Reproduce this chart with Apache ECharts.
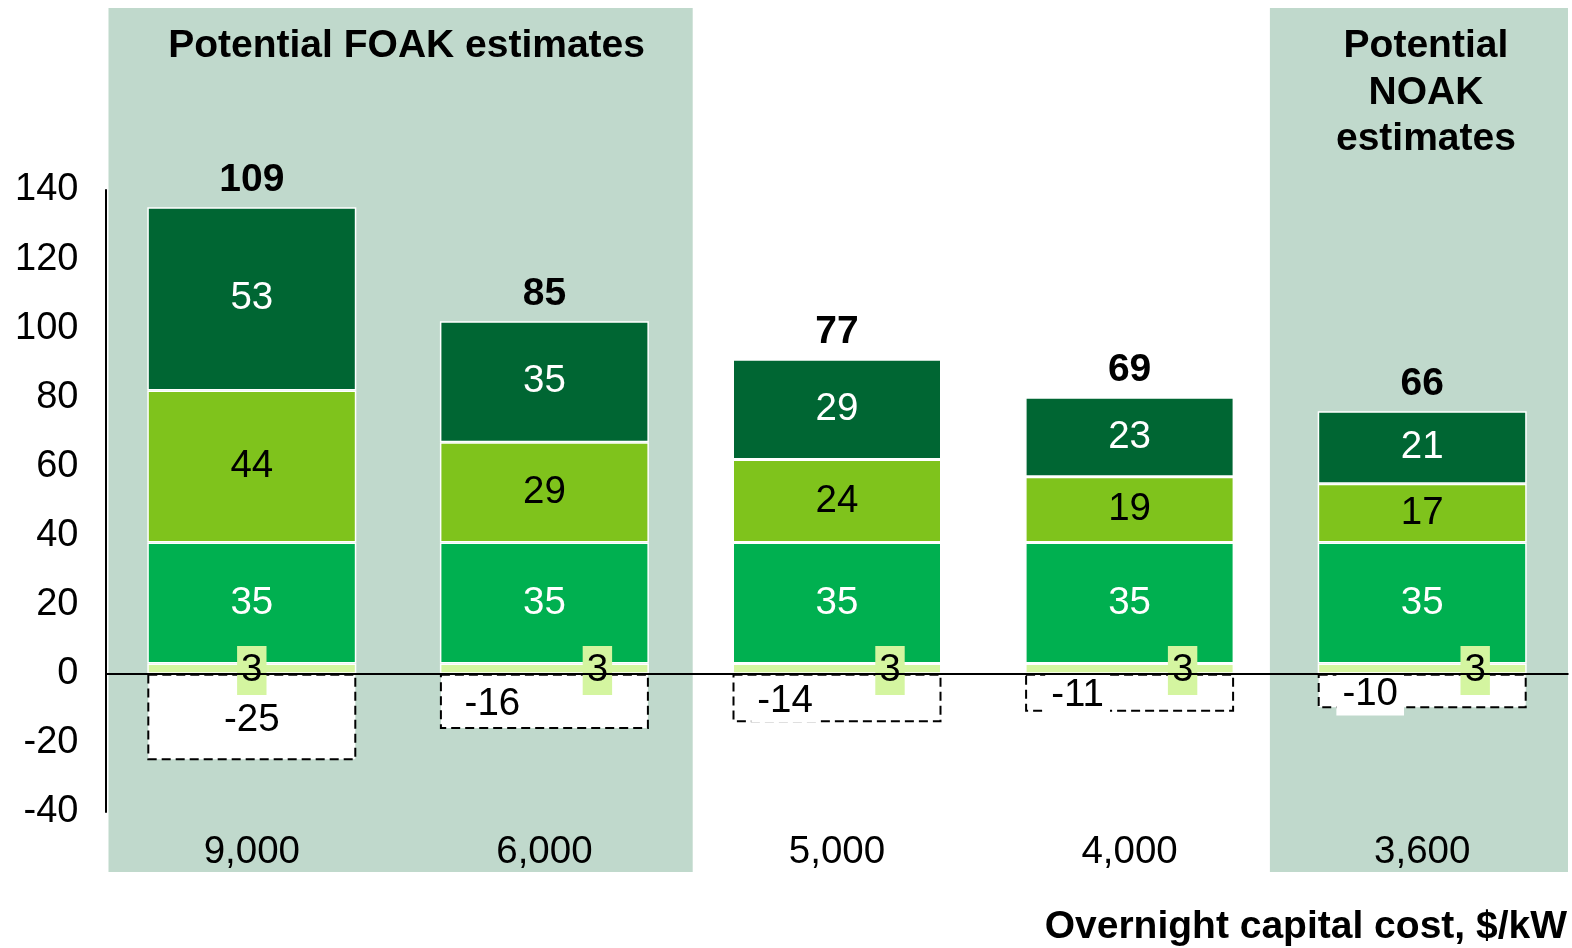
<!DOCTYPE html>
<html>
<head>
<meta charset="utf-8">
<script src="https://cdn.jsdelivr.net/npm/echarts@6/dist/echarts.min.js"></script>
<style>
html,body{margin:0;padding:0;background:#fff;}
#main{width:1572px;height:948px;}
</style>
</head>
<body>
<div id="main"></div>
<script>
const categories = ['9,000', '6,000', '5,000', '4,000', '3,600'];
const seriesSmall = [3, 3, 3, 3, 3];
const seriesGreen = [35, 35, 35, 35, 35];
const seriesLime = [44, 29, 24, 19, 17];
const seriesDark = [53, 35, 29, 23, 21];
const seriesNeg = [-25, -16, -14, -11, -10];
const totals = [109, 85, 77, 69, 66];
const yTicks = { min: -40, max: 140, interval: 20 };
const foakTitle = 'Potential FOAK estimates';
const noakTitle = 'Potential\nNOAK\nestimates';
const xAxisTitle = 'Overnight capital cost, $/kW';

const FONT = '"Liberation Sans", Arial, sans-serif';
const FS = 38.5;
const BFS = 39;

const chart = echarts.init(document.getElementById('main'), null, {renderer: 'canvas'});

const positiveTops = categories.map((c, i) => seriesSmall[i] + seriesGreen[i] + seriesLime[i] + seriesDark[i]);

function segStyle(color) {
  return { color: color, borderColor: '#ffffff', borderWidth: 1.5 };
}

const BAR_W = 209;

const option = {
  animation: false,
  grid: { left: 105.5, right: 3.5, top: 190, bottom: 136, containLabel: false },
  xAxis: {
    type: 'category',
    data: categories,
    axisLine: { show: false },
    axisTick: { show: false },
    axisLabel: { fontFamily: FONT, fontSize: FS, color: '#000', margin: 21 },
    splitLine: { show: false }
  },
  yAxis: {
    type: 'value',
    min: yTicks.min, max: yTicks.max, interval: yTicks.interval,
    axisLine: { show: true, lineStyle: { color: '#000', width: 2 } },
    axisTick: { show: false },
    splitLine: { show: false },
    axisLabel: { fontFamily: FONT, fontSize: 38, color: '#000', margin: 27 }
  },
  series: [
    {
      name: 'small', type: 'bar', stack: 's', barWidth: BAR_W, z: 2,
      itemStyle: segStyle('#D4F5A0'),
      data: seriesSmall.map((v, i) => ({
        value: v,
        label: {
          show: true, position: 'inside', offset: [i === 0 ? 0 : 53, 2],
          fontFamily: FONT, fontSize: FS, color: '#000',
          backgroundColor: '#D4F5A0', padding: [6, 4, 4, 4]
        }
      })),
      markLine: {
        silent: true, symbol: 'none',
        lineStyle: { color: '#000', width: 2, type: 'solid' },
        label: { show: false },
        data: [{ yAxis: 0 }]
      }
    },
    {
      name: 'green', type: 'bar', stack: 's', barWidth: BAR_W,
      itemStyle: segStyle('#00B050'),
      label: { show: true, position: 'inside', fontFamily: FONT, fontSize: FS, color: '#fff' },
      data: seriesGreen
    },
    {
      name: 'lime', type: 'bar', stack: 's', barWidth: BAR_W,
      itemStyle: segStyle('#7FC31C'),
      label: { show: true, position: 'inside', fontFamily: FONT, fontSize: FS, color: '#000' },
      data: seriesLime
    },
    {
      name: 'dark', type: 'bar', stack: 's', barWidth: BAR_W,
      itemStyle: segStyle('#006633'),
      label: { show: true, position: 'inside', fontFamily: FONT, fontSize: FS, color: '#fff' },
      data: seriesDark
    },
    {
      name: 'neg', type: 'bar', stack: 's', barWidth: BAR_W,
      itemStyle: { color: '#ffffff', borderColor: '#000', borderWidth: 2, borderType: [9, 5] },
      data: seriesNeg.map((v, i) => ({
        value: v,
        label: {
          show: true, position: 'inside', offset: [i === 0 ? 0 : -52, 3],
          fontFamily: FONT, fontSize: FS, color: '#000',
          backgroundColor: '#ffffff', padding: [2, 6, 2, 6]
        }
      }))
    },
    {
      name: 'totals', type: 'scatter', symbolSize: 1, z: 5,
      itemStyle: { color: 'rgba(0,0,0,0)', opacity: 1 },
      data: positiveTops.map((v, i) => ({ value: [i, v] })),
      label: {
        show: true, position: 'top', distance: 7, opacity: 1,
        fontFamily: FONT, fontSize: BFS, fontWeight: 'bold', color: '#000000',
        textBorderWidth: 0,
        formatter: p => String(totals[p.dataIndex])
      }
    }
  ]
};

chart.setOption(option);

function placeDecor() {
  const c0 = chart.convertToPixel({ xAxisIndex: 0 }, 0);
  const c1 = chart.convertToPixel({ xAxisIndex: 0 }, 1);
  const c4 = chart.convertToPixel({ xAxisIndex: 0 }, 4);
  const bw = c1 - c0;
  const foakL = c0 - bw / 2 + 3, foakR = c1 + bw / 2 + 2;
  const noakL = c4 - bw / 2 - 6, noakR = 1568;
  const panelColor = '#C0D9CC';
  chart.setOption({
    graphic: [
      { type: 'rect', z: -10, shape: { x: foakL, y: 8, width: foakR - foakL, height: 864 }, style: { fill: panelColor } },
      { type: 'rect', z: -10, shape: { x: noakL, y: 8, width: noakR - noakL, height: 864 }, style: { fill: panelColor } },
      { type: 'text', z: 10, x: (foakL + foakR) / 2 + 6, y: 46,
        style: { text: foakTitle, font: 'bold ' + BFS + 'px ' + FONT, fill: '#000', textAlign: 'center', textVerticalAlign: 'middle' } },
      { type: 'text', z: 10, x: (noakL + noakR) / 2 + 7, y: 93,
        style: { text: noakTitle, font: 'bold ' + BFS + 'px ' + FONT, fill: '#000', textAlign: 'center', textVerticalAlign: 'middle', lineHeight: 46.5 } },
      { type: 'text', z: 10, x: 1567, y: 927,
        style: { text: xAxisTitle, font: 'bold ' + BFS + 'px ' + FONT, fill: '#000', textAlign: 'right', textVerticalAlign: 'middle' } }
    ]
  });
}
placeDecor();
</script>
</body>
</html>
